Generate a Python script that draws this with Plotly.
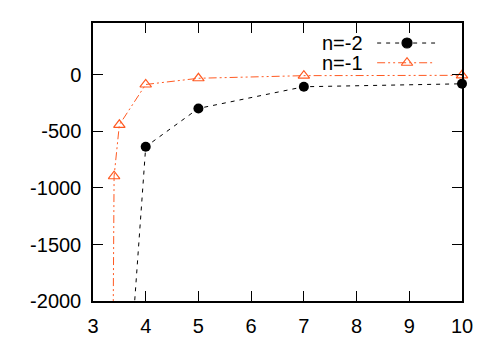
import plotly.graph_objects as go

# Data
x_n2 = [3.5, 4, 5, 7, 10]
y_n2 = [-3900, -635, -296, -104, -78]
x_n1 = [3.3, 3.4, 3.5, 4, 5, 7, 10]
y_n1 = [-8000, -896, -441, -84, -29, -6, -3]

x_ticks = [3, 4, 5, 6, 7, 8, 9, 10]
y_ticks = [-2000, -1500, -1000, -500, 0]
x_range = [3, 10]
y_range = [-2000, 460]

black = "#000000"
orange = "#ff5a22"
dash_n2 = "4px,5px"
dash_n1 = "8px,3px,2px,3px,2px,3px"
font = dict(family="Liberation Sans, Arial, sans-serif", size=20, color="black")

fig = go.Figure()

# n=-2 line + markers
fig.add_trace(go.Scatter(x=x_n2, y=y_n2, mode="lines",
                         line=dict(color=black, width=1, dash=dash_n2),
                         showlegend=False, hoverinfo="skip"))
vis2 = [(a, b) for a, b in zip(x_n2, y_n2) if b >= y_range[0]]
fig.add_trace(go.Scatter(x=[a for a, _ in vis2], y=[b for _, b in vis2], mode="markers",
                         marker=dict(symbol="circle", size=10, color=black),
                         cliponaxis=False, showlegend=False))

# n=-1 line + markers
fig.add_trace(go.Scatter(x=x_n1, y=y_n1, mode="lines",
                         line=dict(color=orange, width=1, dash=dash_n1),
                         showlegend=False, hoverinfo="skip"))
vis1 = [(a, b) for a, b in zip(x_n1, y_n1) if b >= y_range[0]]
fig.add_trace(go.Scatter(x=[a for a, _ in vis1], y=[b for _, b in vis1], mode="markers",
                         marker=dict(symbol="triangle-up-open", size=10, color=orange,
                                     line=dict(width=1.2, color=orange)),
                         cliponaxis=False, showlegend=False))

# gnuplot-style key (text on left, sample on right) on an overlay unit axis
key_x0, key_x1, key_xm, key_text_x = 0.770, 0.927, 0.851, 0.737
key_rows = [
    ("n=-2", 0.928, black, dash_n2, "circle"),
    ("n=-1", 0.857, orange, dash_n1, "triangle-up-open"),
]
for label, ky, col, dsh, sym in key_rows:
    fig.add_trace(go.Scatter(x=[key_x0, key_x1], y=[ky, ky], mode="lines",
                             line=dict(color=col, width=1, dash=dsh),
                             xaxis="x2", yaxis="y2", showlegend=False, hoverinfo="skip"))
    fig.add_trace(go.Scatter(x=[key_xm], y=[ky], mode="markers",
                             marker=dict(symbol=sym, size=10, color=col, line=dict(width=1.2, color=col)),
                             xaxis="x2", yaxis="y2", showlegend=False, hoverinfo="skip"))
    fig.add_annotation(x=key_text_x, y=ky, xref="x2", yref="y2", text=label,
                       showarrow=False, xanchor="right", yanchor="middle", font=font)

axis_common = dict(showline=True, linecolor="black", linewidth=1.5, mirror="ticks",
                   ticks="inside", ticklen=10, tickwidth=1, tickcolor="black",
                   showgrid=False, zeroline=False, tickfont=font)

fig.update_layout(
    width=498, height=349,
    margin=dict(l=93, r=36, t=23, b=43),
    paper_bgcolor="white", plot_bgcolor="white",
    font=font,
    xaxis=dict(range=x_range, tickvals=x_ticks, ticktext=[str(v) for v in x_ticks],
               ticklabelstandoff=6, **axis_common),
    yaxis=dict(range=y_range, tickvals=y_ticks, ticktext=[str(v) for v in y_ticks],
               ticklabelstandoff=6, **axis_common),
    xaxis2=dict(range=[0, 1], overlaying="x", anchor="y2", visible=False, fixedrange=True),
    yaxis2=dict(range=[0, 1], overlaying="y", anchor="x2", visible=False, fixedrange=True),
    showlegend=False,
)

fig.write_html("out.html",
               config={"displayModeBar": False},
               post_script="document.body.style.margin='0';document.body.style.padding='0';")
